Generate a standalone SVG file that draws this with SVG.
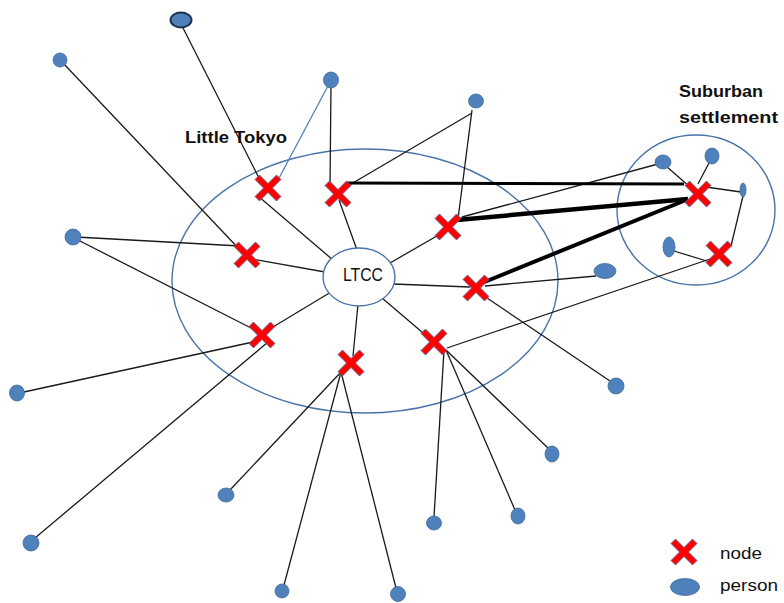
<svg xmlns="http://www.w3.org/2000/svg" xmlns:xlink="http://www.w3.org/1999/xlink" width="784" height="603" viewBox="0 0 784 603">
<style>
.area{fill:none;stroke:#4a74a8;stroke-width:1.4}
.ln{stroke:#1a1a1a;stroke-width:1.3;fill:none}
.thick{stroke:#000;fill:none}
.blue{stroke:#4f81bd;stroke-width:1.3;fill:none}
.person{fill:#4f81bd;stroke:#41689c;stroke-width:0.8}
.lbl{font-family:"Liberation Sans",Arial,sans-serif;fill:#111}
.bold{font-weight:bold}
</style>
<defs>
<path id="xmark" d="M-13,-8.5 L-8.5,-13 L0,-4.5 L8.5,-13 L13,-8.5 L4.5,0 L13,8.5 L8.5,13 L0,4.5 L-8.5,13 L-13,8.5 L-4.5,0 Z" fill="#ff0000" stroke="#5a6fa0" stroke-width="0.9" stroke-linejoin="miter"/>
</defs>
<rect width="784" height="603" fill="#ffffff"/>
<g id="areas">
<ellipse class="area" cx="365" cy="281" rx="193" ry="132"/>
<ellipse class="area" cx="696" cy="210" rx="79" ry="75"/>
</g>
<g id="connectors">
<line class="ln" x1="181" y1="24" x2="262" y2="184"/>
<line class="ln" x1="258" y1="196" x2="333" y2="260"/>
<line class="blue" x1="278" y1="180" x2="329" y2="84"/>
<line class="ln" x1="63" y1="63" x2="241" y2="251"/>
<line class="ln" x1="252" y1="259" x2="325" y2="272"/>
<line class="ln" x1="76" y1="237" x2="240" y2="246"/>
<line class="ln" x1="76" y1="239" x2="255" y2="330"/>
<line class="ln" x1="331" y1="84" x2="330" y2="187"/>
<line class="ln" x1="339" y1="200" x2="357" y2="250"/>
<line class="ln" x1="346" y1="187" x2="472" y2="113"/>
<line class="ln" x1="472" y1="110" x2="458" y2="219"/>
<line class="ln" x1="390" y1="263" x2="442" y2="233"/>
<line class="ln" x1="462" y1="217" x2="658" y2="164"/>
<line class="ln" x1="393" y1="284" x2="470" y2="287"/>
<line class="ln" x1="485" y1="286" x2="596" y2="276"/>
<line class="ln" x1="484" y1="296" x2="610" y2="381"/>
<line class="ln" x1="382" y1="298" x2="429" y2="338"/>
<line class="ln" x1="447" y1="348" x2="710" y2="259"/>
<line class="ln" x1="446" y1="350" x2="548" y2="448"/>
<line class="ln" x1="446" y1="350" x2="515" y2="510"/>
<line class="ln" x1="444" y1="350" x2="434" y2="517"/>
<line class="ln" x1="268" y1="330" x2="331" y2="292"/>
<line class="ln" x1="253" y1="342" x2="24" y2="392"/>
<line class="ln" x1="268" y1="342" x2="35" y2="538"/>
<line class="ln" x1="353" y1="356" x2="358" y2="304"/>
<line class="ln" x1="341" y1="372" x2="230" y2="490"/>
<line class="ln" x1="341" y1="372" x2="284" y2="585"/>
<line class="ln" x1="341" y1="372" x2="396" y2="588"/>
<line class="ln" x1="666" y1="166" x2="690" y2="187"/>
<line class="ln" x1="710" y1="161" x2="698" y2="184"/>
<line class="ln" x1="706" y1="187" x2="741" y2="192"/>
<line class="ln" x1="743" y1="196" x2="731" y2="246"/>
<line class="ln" x1="674" y1="251" x2="710" y2="262"/>
<line class="thick" stroke-width="3" x1="346" y1="183" x2="684" y2="184"/>
<line class="thick" stroke-width="4.5" x1="457" y1="220" x2="688" y2="199"/>
<line class="thick" stroke-width="4" x1="482" y1="283" x2="686" y2="200"/>
</g>
<g id="ltcc">
<ellipse cx="359" cy="277" rx="36" ry="29" fill="#ffffff" stroke="#4a74a8" stroke-width="1.4"/>
<text class="lbl" x="363" y="281" font-size="19" text-anchor="middle" textLength="40" lengthAdjust="spacingAndGlyphs">LTCC</text>
</g>
<g id="nodes">
<use id="n1" xlink:href="#xmark" x="268" y="188"/>
<use id="n2" xlink:href="#xmark" x="338" y="194"/>
<use id="n3" xlink:href="#xmark" x="247" y="255"/>
<use id="n4" xlink:href="#xmark" x="448" y="227"/>
<use id="n5" xlink:href="#xmark" x="476" y="288"/>
<use id="n6" xlink:href="#xmark" x="262" y="335"/>
<use id="n7" xlink:href="#xmark" x="351" y="363"/>
<use id="n8" xlink:href="#xmark" x="434" y="342"/>
<use id="n9" xlink:href="#xmark" x="698" y="194"/>
<use id="n10" xlink:href="#xmark" x="719" y="254"/>
</g>
<g id="persons">
<ellipse id="p1" cx="181" cy="20" rx="10.5" ry="7.5" fill="#4f81bd" stroke="#1f3350" stroke-width="2"/>
<ellipse id="p2" class="person" cx="60" cy="60" rx="7" ry="7"/>
<ellipse id="p3" class="person" cx="331" cy="80" rx="7.5" ry="8"/>
<ellipse id="p4" class="person" cx="476" cy="101" rx="7.5" ry="7"/>
<ellipse id="p5" class="person" cx="73" cy="237" rx="8" ry="8"/>
<ellipse id="p6" class="person" cx="663" cy="162" rx="8" ry="7"/>
<ellipse id="p7" class="person" cx="712" cy="156" rx="7" ry="8"/>
<ellipse id="p8" class="person" cx="743" cy="190" rx="3" ry="7"/>
<ellipse id="p9" class="person" cx="669" cy="247" rx="6" ry="10"/>
<ellipse id="p10" class="person" cx="605" cy="271" rx="11" ry="7.5"/>
<ellipse id="p11" class="person" cx="616" cy="386" rx="8" ry="8"/>
<ellipse id="p12" class="person" cx="552" cy="454" rx="7" ry="8"/>
<ellipse id="p13" class="person" cx="518" cy="516" rx="7" ry="8"/>
<ellipse id="p14" class="person" cx="434" cy="523" rx="7.5" ry="7"/>
<ellipse id="p15" class="person" cx="17" cy="393" rx="7.5" ry="8"/>
<ellipse id="p16" class="person" cx="226" cy="495" rx="8" ry="7"/>
<ellipse id="p17" class="person" cx="31" cy="543" rx="8" ry="8"/>
<ellipse id="p18" class="person" cx="282" cy="591" rx="7" ry="7"/>
<ellipse id="p19" class="person" cx="398" cy="594" rx="7.5" ry="7.5"/>
</g>
<g id="labels">
<text class="lbl bold" x="185" y="143" font-size="16.5" textLength="102" lengthAdjust="spacingAndGlyphs">Little Tokyo</text>
<text class="lbl bold" x="679" y="97" font-size="16.5" textLength="84" lengthAdjust="spacingAndGlyphs">Suburban</text>
<text class="lbl bold" x="679" y="123" font-size="16.5" textLength="99" lengthAdjust="spacingAndGlyphs">settlement</text>
</g>
<g id="legend">
<use xlink:href="#xmark" x="684" y="552"/>
<text class="lbl" x="720" y="559" font-size="17" textLength="42" lengthAdjust="spacingAndGlyphs">node</text>
<ellipse class="person" cx="685" cy="587" rx="14.5" ry="8.5"/>
<text class="lbl" x="720" y="591" font-size="17" textLength="58" lengthAdjust="spacingAndGlyphs">person</text>
</g>
</svg>
